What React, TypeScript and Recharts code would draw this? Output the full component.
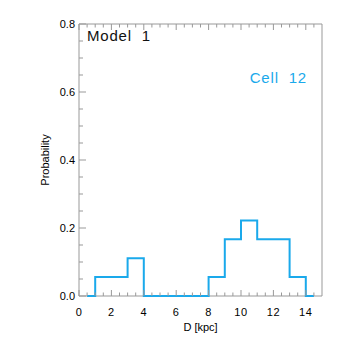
import React from 'react';
import { LineChart, Line, XAxis, YAxis } from 'recharts';

// Histogram bin edges (kpc) and the probability that starts at each edge (step after)
const binEdges = [0.5, 1, 3, 4, 8, 9, 10, 11, 13, 14, 14.5];
const probability = [0, 0.0556, 0.1111, 0, 0.0556, 0.1667, 0.2222, 0.1667, 0.0556, 0, 0];

const xMajorTicks = [0, 2, 4, 6, 8, 10, 12, 14];
const xMinorTicks = [0.5, 1, 1.5, 2.5, 3, 3.5, 4.5, 5, 5.5, 6.5, 7, 7.5, 8.5, 9, 9.5, 10.5, 11, 11.5, 12.5, 13, 13.5, 14.5];
const yMajorTicks = [0, 0.2, 0.4, 0.6, 0.8];
const yMinorTicks = [0.05, 0.1, 0.15, 0.25, 0.3, 0.35, 0.45, 0.5, 0.55, 0.65, 0.7, 0.75];
const yTickLabels = ['0.0', '0.2', '0.4', '0.6', '0.8'];

const xAllTicks = [...xMajorTicks, ...xMinorTicks].sort((a, b) => a - b);
const yAllTicks = [...yMajorTicks, ...yMinorTicks].sort((a, b) => a - b);

const data = binEdges.map((d, i) => ({ d, p: probability[i] }));

const FONT = '"Liberation Sans", Arial, Helvetica, sans-serif';
const AXIS = '#999999';
const BLUE = '#1aa9eb';

const isMajor = (arr: number[], v: number) => arr.some((m) => Math.abs(m - v) < 1e-6);

const BottomTick = (props: any) => {
  const { x, y, payload } = props;
  const major = isMajor(xMajorTicks, payload.value);
  return (
    <g>
      <line x1={x} x2={x} y1={y} y2={y - (major ? 6 : 3.5)} stroke={AXIS} strokeWidth={1} />
      {major && (
        <text x={x} y={y + 20} textAnchor="middle" fontSize={11} fontFamily={FONT} fill="#000" letterSpacing={0.6}>
          {payload.value}
        </text>
      )}
    </g>
  );
};

const TopTick = (props: any) => {
  const { x, y, payload } = props;
  const major = isMajor(xMajorTicks, payload.value);
  return <line x1={x} x2={x} y1={y} y2={y + (major ? 6 : 3.5)} stroke={AXIS} strokeWidth={1} />;
};

const LeftTick = (props: any) => {
  const { x, y, payload } = props;
  const idx = yMajorTicks.findIndex((m) => Math.abs(m - payload.value) < 1e-6);
  const major = idx >= 0;
  return (
    <g>
      <line x1={x} x2={x + (major ? 7 : 4)} y1={y} y2={y} stroke={AXIS} strokeWidth={1} />
      {major && (
        <text x={x - 4} y={y} dy="0.35em" textAnchor="end" fontSize={11} fontFamily={FONT} fill="#000">
          {yTickLabels[idx]}
        </text>
      )}
    </g>
  );
};

const RightTick = (props: any) => {
  const { x, y, payload } = props;
  const major = isMajor(yMajorTicks, payload.value);
  return <line x1={x} x2={x - (major ? 7 : 4)} y1={y} y2={y} stroke={AXIS} strokeWidth={1} />;
};

export default function App() {
  return (
    <div style={{ position: 'absolute', left: 0, top: 0, width: 346, height: 346, background: '#fff' }}>
      <LineChart width={346} height={346} data={data} margin={{ top: 23, right: 23, bottom: 49, left: 78 }}>
        <XAxis
          dataKey="d"
          type="number"
          domain={[0, 15]}
          ticks={xAllTicks}
          interval={0}
          height={1}
          tickSize={0}
          tickMargin={0}
          tick={<BottomTick />}
          tickLine={false}
          axisLine={{ stroke: AXIS }}
          label={(p: any) => {
            const vb = p.viewBox || { x: 79, y: 296, width: 243 };
            return (
              <text x={vb.x + vb.width / 2} y={vb.y + 31} dy="0.35em" textAnchor="middle" fontSize={11} fontFamily={FONT} fill="#000">
                D [kpc]
              </text>
            );
          }}
        />
        <XAxis
          xAxisId="top"
          orientation="top"
          dataKey="d"
          type="number"
          domain={[0, 15]}
          ticks={xAllTicks}
          interval={0}
          height={1}
          tickSize={0}
          tickMargin={0}
          tick={<TopTick />}
          tickLine={false}
          axisLine={{ stroke: AXIS }}
        />
        <YAxis
          type="number"
          domain={[0, 0.8]}
          ticks={yAllTicks}
          interval={0}
          width={1}
          tickSize={0}
          tickMargin={0}
          tick={<LeftTick />}
          tickLine={false}
          axisLine={{ stroke: AXIS }}
          label={(p: any) => {
            const vb = p.viewBox || { x: 78, y: 24, width: 1, height: 272 };
            const cx = vb.x + vb.width - 34;
            const cy = vb.y + vb.height / 2;
            return (
              <text x={cx} y={cy} dy="0.35em" textAnchor="middle" fontSize={11} fontFamily={FONT} fill="#000" transform={`rotate(-90, ${cx}, ${cy})`}>
                Probability
              </text>
            );
          }}
        />
        <YAxis
          yAxisId="right"
          orientation="right"
          type="number"
          domain={[0, 0.8]}
          ticks={yAllTicks}
          interval={0}
          width={1}
          tickSize={0}
          tickMargin={0}
          tick={<RightTick />}
          tickLine={false}
          axisLine={{ stroke: AXIS }}
          label={(p: any) => {
            const vb = p.viewBox || { x: 322, y: 24, width: 1, height: 272 };
            return (
              <g>
                <text x={79 + 8} y={vb.y + 12} dy="0.35em" fontSize={15} fontFamily={FONT} fill="#111" letterSpacing={0.8}>
                  {'Model\u00a0\u00a01'}
                </text>
                <text x={vb.x - 15} y={vb.y + 54} dy="0.35em" textAnchor="end" fontSize={15} fontFamily={FONT} fill={BLUE} letterSpacing={0.8}>
                  {'Cell\u00a0\u00a012'}
                </text>
              </g>
            );
          }}
        />
        <Line
          type="stepAfter"
          dataKey="p"
          stroke={BLUE}
          strokeWidth={2}
          dot={false}
          isAnimationActive={false}
          {...({ zIndex: 900 } as any)}
        />
      </LineChart>
    </div>
  );
}
